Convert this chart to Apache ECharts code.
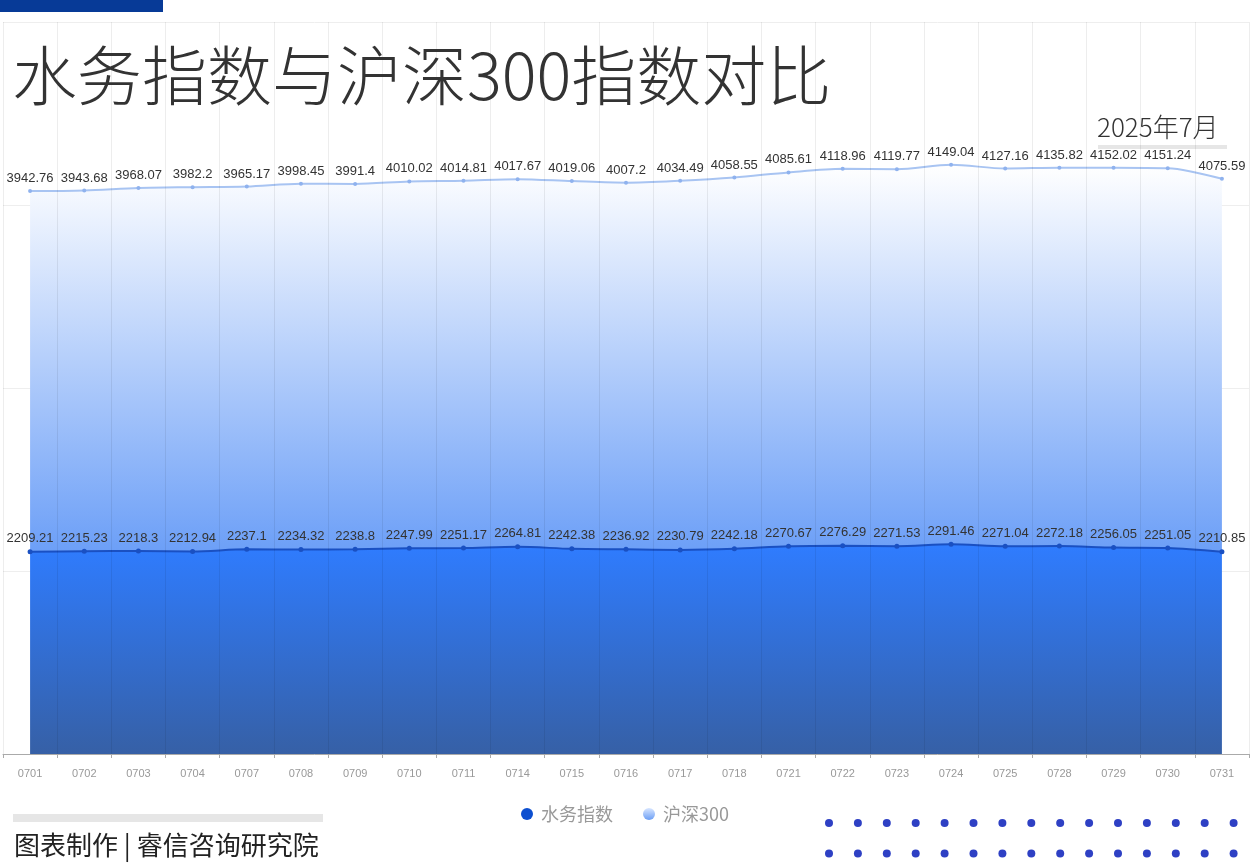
<!DOCTYPE html>
<html>
<head>
<meta charset="utf-8">
<script src="https://cdn.jsdelivr.net/npm/echarts@6/dist/echarts.min.js"></script>
<style>
html,body{margin:0;padding:0;background:#fff;}
#main{width:1250px;height:865px;}
</style>
</head>
<body>
<div id="main"></div>
<script>
const categories = ['0701','0702','0703','0704','0707','0708','0709','0710','0711','0714','0715','0716','0717','0718','0721','0722','0723','0724','0725','0728','0729','0730','0731'];
const waterIndex = [2209.21,2215.23,2218.3,2212.94,2237.1,2234.32,2238.8,2247.99,2251.17,2264.81,2242.38,2236.92,2230.79,2242.18,2270.67,2276.29,2271.53,2291.46,2271.04,2272.18,2256.05,2251.05,2210.85];
const hs300 = [3942.76,3943.68,3968.07,3982.2,3965.17,3998.45,3991.4,4010.02,4014.81,4017.67,4019.06,4007.2,4034.49,4058.55,4085.61,4118.96,4119.77,4149.04,4127.16,4135.82,4152.02,4151.24,4075.59];
const seriesNames = ['水务指数','沪深300'];
const titleText = '水务指数与沪深300指数对比';
const dateText = '2025年7月';
const footerText = '图表制作 | 睿信咨询研究院';

const chart = echarts.init(document.getElementById('main'));
const dots = [];
for (let r = 0; r < 2; r++) {
  for (let i = 0; i < 15; i++) {
    dots.push({type:'circle', shape:{cx:829 + i*28.9, cy:823 + r*30.5, r:4}, style:{fill:'#2e40c4'}, silent:true});
  }
}
const labelFont = {fontSize:13, color:'#333', fontFamily:'Liberation Sans, Arial, sans-serif'};
chart.setOption({
  animation:false,
  backgroundColor:'#fff',
  title:{
    text:titleText, left:7, top:38,
    textStyle:{fontSize:65, fontWeight:300, color:'#333', fontFamily:'Noto Sans CJK SC'}
  },
  legend:{
    data:[
      {name:seriesNames[0], itemStyle:{color:'#0d4fd0'}},
      {name:seriesNames[1], itemStyle:{color:new echarts.graphic.LinearGradient(0,0,0,1,[{offset:0,color:'#d8e6ff'},{offset:1,color:'#6b9ef5'}])}}
    ],
    icon:'circle', itemWidth:12, itemHeight:12, itemGap:30,
    left:'center', top:800,
    textStyle:{fontSize:18, color:'#999', fontFamily:'Noto Sans CJK SC', padding:[0,0,0,3]}
  },
  grid:{left:3, right:1, top:22, bottom:111, containLabel:false},
  xAxis:{
    type:'category', data:categories, boundaryGap:true,
    axisLine:{lineStyle:{color:'#aaa'}},
    axisTick:{show:true, length:4, lineStyle:{color:'#aaa'}},
    axisLabel:{fontSize:11, color:'#999', margin:14, fontFamily:'Liberation Sans, Arial, sans-serif'},
    splitLine:{show:true, lineStyle:{color:'rgba(0,0,0,0.07)'}},
    z:3
  },
  yAxis:{
    type:'value', min:0, max:8000, interval:2000,
    axisLabel:{show:false}, axisLine:{show:false}, axisTick:{show:false},
    splitLine:{show:true, lineStyle:{color:'#eeeeee'}}
  },
  series:[
    {
      name:seriesNames[0], type:'line', stack:'total', data:waterIndex, smooth:0.3,
      symbol:'circle', symbolSize:5,
      lineStyle:{color:'#1a50c2', width:2},
      itemStyle:{color:'#1a50c2'},
      areaStyle:{opacity:1, color:new echarts.graphic.LinearGradient(0,0,0,1,[{offset:0,color:'#2f7cff'},{offset:1,color:'#3660a6'}])},
      label:Object.assign({show:true, position:'top', distance:4}, labelFont),
      z:2
    },
    {
      name:seriesNames[1], type:'line', stack:'total', data:hs300, smooth:0.3,
      symbol:'circle', symbolSize:4,
      lineStyle:{color:'#a8c4f2', width:2},
      itemStyle:{color:'#8fb2ee'},
      areaStyle:{opacity:1, color:new echarts.graphic.LinearGradient(0,0,0,1,[{offset:0,color:'#ffffff'},{offset:1,color:'#6c9ff7'}])},
      label:Object.assign({show:true, position:'top', distance:4}, labelFont),
      z:2
    }
  ],
  graphic:[
    {type:'rect', shape:{x:0, y:0, width:163, height:12}, style:{fill:'#073a97'}, silent:true},
    {type:'rect', shape:{x:1098, y:145, width:129, height:4}, style:{fill:'#e6e6e6'}, silent:true},
    {type:'text', left:1097, top:114, style:{text:dateText, fontSize:26, fontWeight:300, fill:'#333', fontFamily:'Noto Sans CJK SC'}, silent:true},
    {type:'rect', shape:{x:13, y:814, width:310, height:8}, style:{fill:'#e6e6e6'}, silent:true},
    {type:'text', left:14, top:832, style:{text:footerText, fontSize:26, fill:'#222', fontFamily:'Noto Sans CJK SC'}, silent:true}
  ].concat(dots)
});
</script>
</body>
</html>
